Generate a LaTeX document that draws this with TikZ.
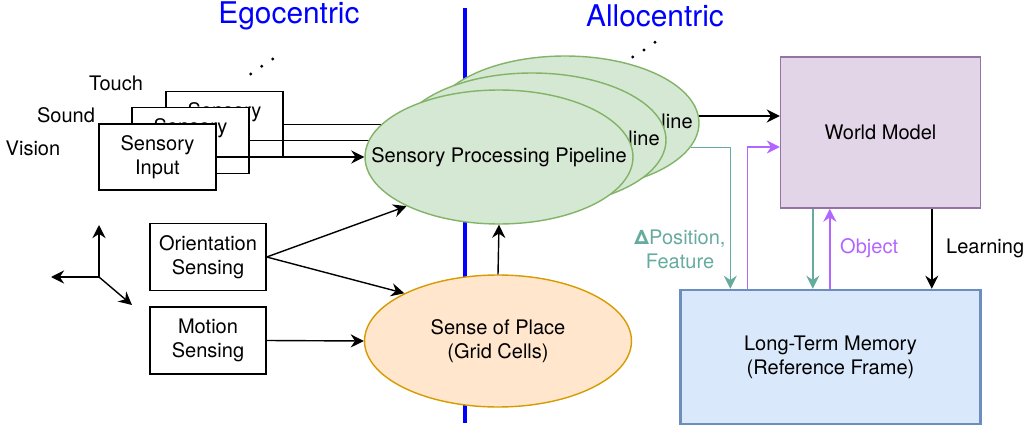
\documentclass[tikz,border=0pt]{standalone}
\usepackage{fontspec}
\setmainfont{TeX Gyre Heros}
\usetikzlibrary{arrows.meta,shapes.geometric}
\pgfdeclarelayer{bg}
\pgfsetlayers{bg,main}
\definecolor{egoblue}{RGB}{0,0,255}
\definecolor{pipegreen}{HTML}{D5E8D4}
\definecolor{pipeedge}{HTML}{82B366}
\definecolor{placefill}{HTML}{FFE6CC}
\definecolor{placeedge}{HTML}{D79B00}
\definecolor{wmfill}{HTML}{E1D5E7}
\definecolor{wmedge}{HTML}{9673A6}
\definecolor{ltmfill}{HTML}{DAE8FC}
\definecolor{ltmedge}{HTML}{6C8EBF}
\definecolor{featteal}{HTML}{67AB9F}
\definecolor{objpurple}{HTML}{B266FF}

\begin{document}
\begin{tikzpicture}[x=0.02cm,y=-0.02cm,
  every node/.style={font=\fontsize{11.4}{13.6}\selectfont},
  box/.style={draw,fill=white,line width=0.8pt,minimum width=2.34cm,minimum height=1.32cm,align=center,inner sep=0pt},
  pipe/.style={ellipse,draw=pipeedge,fill=pipegreen,line width=0.8pt,minimum width=5.36cm,minimum height=2.68cm,inner sep=0pt},
  arr/.style={-{Stealth[length=7.5pt,width=7.5pt,inset=2.5pt]},line width=0.8pt},
  title/.style={font=\fontsize{17}{20}\selectfont,text=egoblue}]
\useasboundingbox (0,0) rectangle (1024,432);
% Titles
\node[title] (egoTitle) at (289,16) {Egocentric};
\node[title] (alloTitle) at (655,16) {Allocentric};
% Processing pipelines
\node[pipe] (pipeBack) at (565,123) {\makebox[0pt]{Sensory Processing Pipeline}};
\node[pipe] (pipeMid) at (532,140) {\makebox[0pt]{Sensory Processing Pipeline}};
\node[pipe] (pipeFront) at (499,157) {\makebox[0pt]{Sensory Processing Pipeline}};
\begin{pgfonlayer}{bg}
  % Ego / allo split
  \draw[egoblue,line width=2.2pt] (465,8) -- (465,423);
  % Sensory inputs
  \node[box] (sensBack) at (224.5,124.5) {Sensory\\Input};
  \node[box] (sensMid) at (190.5,140.5) {Sensory\\Input};
  \node[box] (sensFront) at (157.5,157) {Sensory\\Input};
  \draw[arr] (sensBack.east) -- (sensBack.east -| pipeBack.west);
  \draw[arr] (sensMid.east) -- (sensMid.east -| pipeMid.west);
  \draw[arr] (sensFront.east) -- (pipeFront.west);
\end{pgfonlayer}
\node (touch) at (116,83) {Touch};
\node (sound) at (66,115) {Sound};
\node (vision) at (33,148) {Vision};
\foreach \px/\py in {250.7/74,261.7/66.3,272.7/59,632.7/57,644/50,655/42.3}
  \fill (\px,\py) circle (0.032cm);
% Self-motion
\coordinate (axO) at (99,277);
\coordinate (axUp) at (99,225);
\coordinate (axLeft) at (51,277);
\coordinate (axDiag) at (132,305);
\draw[arr] (axO) -- (axUp);
\draw[arr] (axO) -- (axLeft);
\draw[arr] (axO) -- (axDiag);
\node[box,minimum width=2.32cm,minimum height=1.34cm] (orient) at (208,257) {Orientation\\Sensing};
\node[box,minimum width=2.32cm,minimum height=1.34cm] (motion) at (208,340.5) {Motion\\Sensing};
\node[ellipse,draw=placeedge,fill=placefill,line width=0.8pt,minimum width=5.34cm,minimum height=2.64cm,inner sep=0pt,align=center] (place) at (498,341) {Sense of Place\\(Grid Cells)};
\draw[arr] (orient.east) -- (pipeFront.208);
\draw[arr] (orient.east) -- (place.153);
\draw[arr] (motion.east) -- (place.west);
\draw[arr] (place.north) -- (pipeFront.south);
% Model and memory
\node[draw=wmedge,fill=wmfill,line width=0.8pt,minimum width=4cm,minimum height=3.02cm] (world) at (880.5,132.5) {World Model};
\node[draw=ltmedge,fill=ltmfill,line width=1.4pt,minimum width=6cm,minimum height=2.68cm,align=center] (ltm) at (830.5,357) {Long-Term Memory\\ (Reference Frame)};
\draw[arr] (pipeBack.3) -- (pipeBack.3 -| world.west);
\draw[arr,featteal] (pipeBack.-11) -| ([xshift=1.02cm]ltm.north west);
\draw[arr,objpurple] ([xshift=1.36cm]ltm.north west) |- ([yshift=-0.29cm]world.west);
\draw[arr,featteal] ([xshift=0.66cm]world.south west) -- ([xshift=0.66cm]world.south west |- ltm.north);
\draw[arr,objpurple] ([xshift=1cm]world.south west |- ltm.north) -- ([xshift=1cm]world.south west);
\draw[arr] ([xshift=3.04cm]world.south west) -- ([xshift=3.04cm]world.south west |- ltm.north);
\node[text=featteal,align=center] (featLabel) at (680,249) {\textbf{Δ}Position,\\Feature};
\node[text=objpurple,anchor=west] (objLabel) at (834,248) {Object};
\node[anchor=west] (learnLabel) at (940,248) {Learning};
\end{tikzpicture}
\end{document}
